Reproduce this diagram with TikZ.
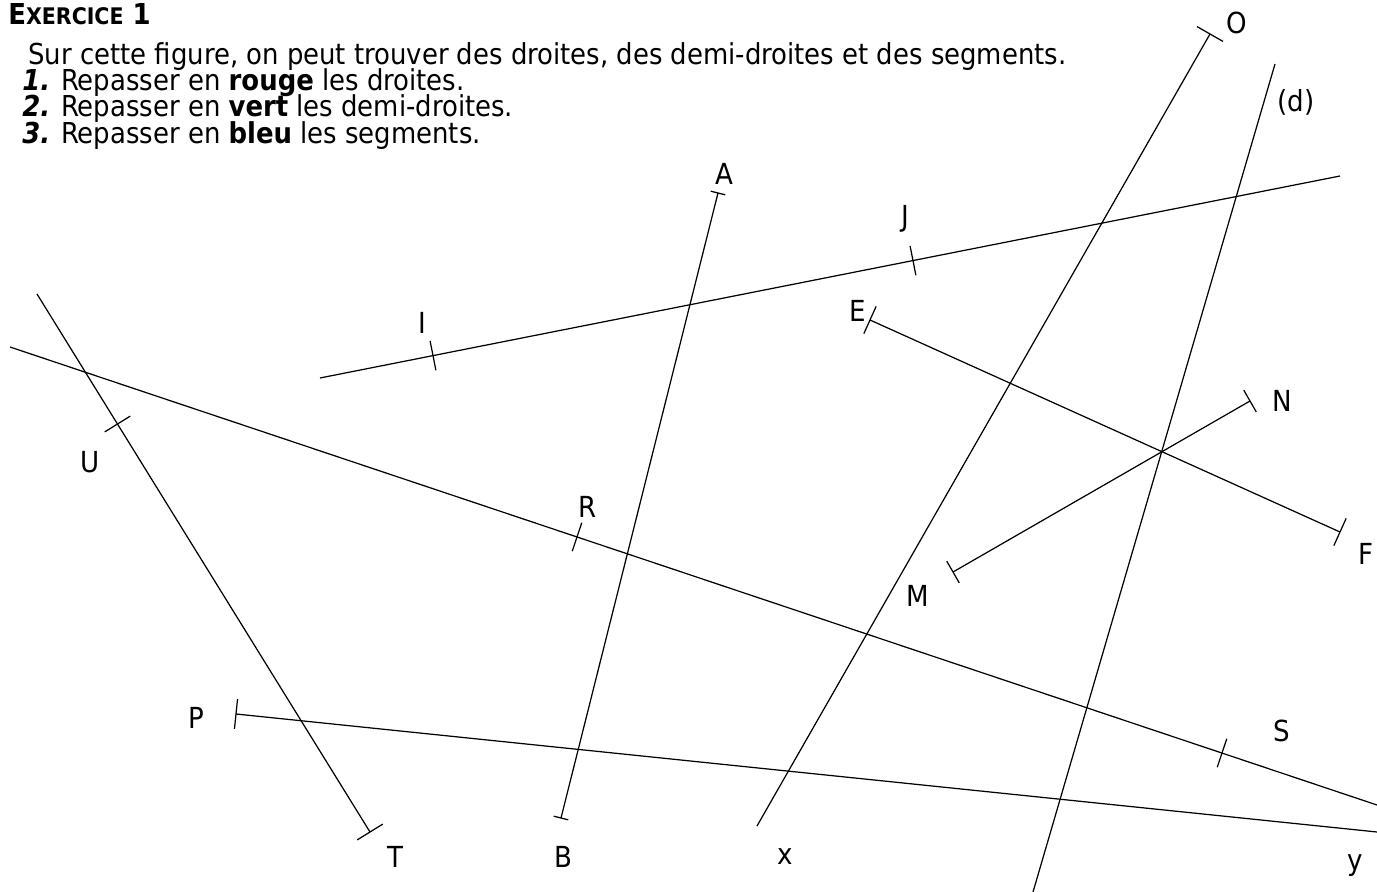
\documentclass[tikz,border=0pt]{standalone}
\usepackage{fontspec}
\setmainfont{DejaVu Sans Condensed}
\usetikzlibrary{calc}
\tikzset{
 trait/.style={line width=0.7pt, draw=black},
 marque/.style={line width=0.7pt, draw=black},
 lettre/.style={font=\fontsize{16.5}{19}\selectfont, inner sep=0pt},
 consigne/.style={font=\fontsize{16.4}{19}\selectfont, inner sep=0pt, anchor=base west}
}
% petit trait perpendiculaire en #1, le long de la droite vers #2
\newcommand{\tiret}[3]{\draw[marque] ($(#1)!#3!90:(#2)$) -- ($(#1)!#3!-90:(#2)$);}

\begin{document}
\begin{tikzpicture}[x=0.02cm, y=-0.02cm]
 \useasboundingbox (0,0) rectangle (1377,892);

 % consignes
 \node[consigne] (titre) at (8,25) {\textbf{E{\fontsize{13}{15}\selectfont XERCICE} 1}};
 \node[consigne] (intro) at (28,65) {Sur cette figure, on peut trouver des droites, des demi-droites et des segments.};
 \node[consigne] (q1) at (22,91) {\textbf{\textit{1.}} Repasser en \textbf{rouge} les droites.};
 \node[consigne] (q2) at (22,117) {\textbf{\textit{2.}} Repasser en \textbf{vert} les demi-droites.};
 \node[consigne] (q3) at (22,144) {\textbf{\textit{3.}} Repasser en \textbf{bleu} les segments.};

 % points
 \coordinate (I1) at (320,378);
 \coordinate (J1) at (1340,176);
 \coordinate (I) at (433,355.6);
 \coordinate (J) at (913,260.6);
 \coordinate (A) at (718,193);
 \coordinate (B) at (561,818);
 \coordinate (U1) at (37,294);
 \coordinate (U) at (117.5,424);
 \coordinate (T) at (370,832);
 \coordinate (R1) at (10,347);
 \coordinate (S1) at (1377,805);
 \coordinate (R) at (577,537);
 \coordinate (S) at (1222,753);
 \coordinate (O) at (1210,34);
 \coordinate (x) at (757,826);
 \coordinate (d1) at (1275,64);
 \coordinate (d2) at (1033,892);
 \coordinate (E) at (870,320);
 \coordinate (F) at (1340,532);
 \coordinate (M) at (953,572);
 \coordinate (N) at (1250,401);
 \coordinate (P) at (236,714);
 \coordinate (y) at (1377,832);

 % droites, demi-droites, segments
 \draw[trait] (I1) -- (J1);
 \draw[trait] (A) -- (B);
 \draw[trait] (U1) -- (T);
 \draw[trait] (R1) -- (S1);
 \draw[trait] (O) -- (x);
 \draw[trait] (d1) -- (d2);
 \draw[trait] (E) -- (F);
 \draw[trait] (M) -- (N);
 \draw[trait] (P) -- (y);

 % marques
 \tiret{I}{J}{3mm}
 \tiret{J}{I}{3mm}
 \tiret{A}{B}{1.5mm}
 \tiret{B}{A}{1.5mm}
 \tiret{U}{T}{3mm}
 \tiret{T}{U}{3mm}
 \tiret{R}{S}{3mm}
 \tiret{S}{R}{3mm}
 \tiret{O}{x}{3mm}
 \tiret{E}{F}{3mm}
 \tiret{F}{E}{3mm}
 \tiret{M}{N}{2.5mm}
 \tiret{N}{M}{2.5mm}
 \tiret{P}{y}{3mm}

 % noms
 \node[lettre] (lO) at (1237,23) {O};
 \node[lettre] (ld) at (1296,102) {(d)};
 \node[lettre] (lA) at (724,174) {A};
 \node[lettre] (lJ) at (905,219) {J};
 \node[lettre] (lI) at (422,323) {I};
 \node[lettre] (lE) at (858,311) {E};
 \node[lettre] (lN) at (1282,401) {N};
 \node[lettre] (lU) at (90,462) {U};
 \node[lettre] (lR) at (588,507) {R};
 \node[lettre] (lF) at (1366,554) {F};
 \node[lettre] (lM) at (918,596) {M};
 \node[lettre] (lP) at (196,718) {P};
 \node[lettre] (lS) at (1282,731) {S};
 \node[lettre] (lT) at (395,857) {T};
 \node[lettre] (lB) at (563,857) {B};
 \node[lettre] (lx) at (785,857) {x};
 \node[lettre] (ly) at (1355,866) {y};
\end{tikzpicture}
\end{document}
